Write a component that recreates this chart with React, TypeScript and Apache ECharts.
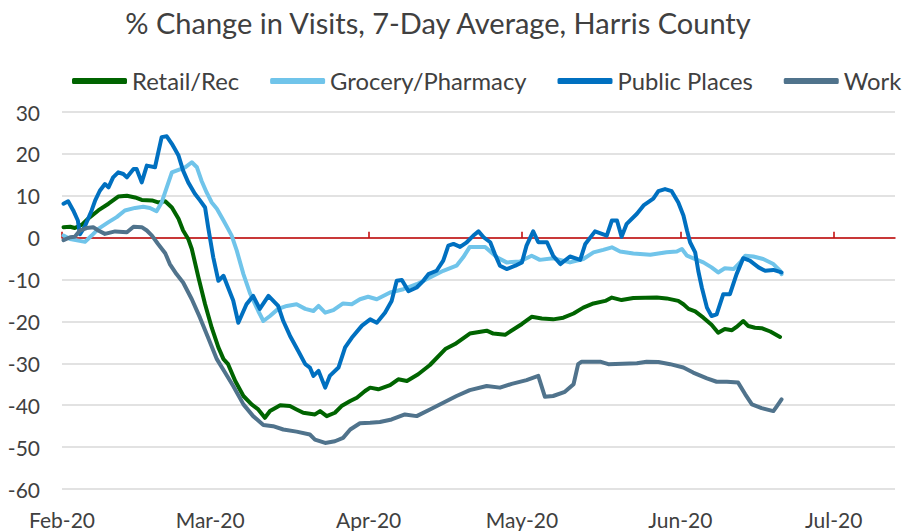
import React, { useEffect, useRef } from 'react';
import * as echarts from 'echarts';

const chartTitle = '% Change in Visits, 7-Day Average, Harris County';
const seriesNames = ['Retail/Rec', 'Grocery/Pharmacy', 'Public Places', 'Work'];
const seriesColors = ['#006400', '#70C4EA', '#0070C0', '#50738C'];

// day index counted from Feb 1, 2020
const monthTicks = [0, 29, 60, 90, 121, 151];
const monthLabels = ['Feb-20', 'Mar-20', 'Apr-20', 'May-20', 'Jun-20', 'Jul-20'];
const axisEndDay = 163;
const yTicks = { min: -60, max: 30, step: 10 };

const retailRec: [number, number][] = [
  [0.3, 2.5], [1.6, 2.6], [2.5, 2.3], [3.9, 3.1], [5.1, 4.5], [7.1, 6.5], [9.1, 8.1], [11.0, 9.8],
  [12.7, 10], [14.3, 9.6], [15.6, 9], [17.6, 8.9], [18.8, 8.4], [20.2, 8.7], [21.5, 7.2], [22.8, 4.5],
  [23.7, 1.7], [24.7, -0.3], [25.4, -2.7], [26.7, -9.5], [28.0, -15.9], [29.3, -21.5], [30.6, -26.2],
  [31.6, -29], [32.5, -30.2], [33.9, -34.2], [35.5, -37.8], [37.1, -39.8], [38.4, -41], [39.7, -43],
  [40.7, -41.4], [42.7, -40], [44.6, -40.2], [45.9, -41], [47.2, -41.8], [49.5, -42.2], [50.5, -41.4],
  [51.8, -42.6], [53.4, -41.8], [54.7, -40.2], [56.4, -39], [57.7, -38.2], [59.3, -36.6], [60.3, -35.8],
  [61.9, -36.2], [64.2, -35.2], [65.8, -33.8], [67.5, -34.2], [69.7, -32.6], [72.0, -30.4], [75.0, -26.6],
  [76.9, -25.4], [79.8, -22.9], [83.1, -22.2], [84.4, -22.9], [86.7, -23.2], [90.0, -20.6], [91.9, -18.9],
  [93.9, -19.3], [96.1, -19.5], [98.1, -19.1], [100.1, -18.1], [102.0, -16.7], [104.0, -15.7], [106.3, -15.1],
  [107.6, -14.3], [109.5, -14.9], [111.8, -14.4], [116.4, -14.3], [118.3, -14.5], [120.6, -15.1], [121.6, -15.9],
  [122.6, -17], [123.9, -17.6], [125.5, -19.1], [127.1, -20.8], [128.4, -22.7], [129.7, -21.8], [131.1, -22.1],
  [132.0, -21.3], [133.3, -19.9], [134.3, -21.1], [135.6, -21.5], [136.9, -21.6], [138.6, -22.4], [140.5, -23.7],
];

const groceryPharmacy: [number, number][] = [
  [0.3, 0.5], [1.6, -0.3], [3.2, -0.7], [4.5, -1], [5.8, 0.5], [7.1, 2.1], [9.1, 3.7], [10.7, 4.9],
  [12.3, 6.5], [14.3, 7.1], [15.9, 7.4], [17.2, 7.1], [18.5, 6.3], [19.5, 8.4], [20.5, 12], [21.5, 15.6],
  [22.8, 16.2], [24.1, 16.8], [25.4, 18], [26.4, 16.8], [27.3, 13.6], [28.3, 10.8], [29.3, 8.4], [30.3, 6.9],
  [31.6, 4.1], [32.5, 2.1], [33.2, 0.5], [34.2, -3.1], [35.5, -8.7], [36.8, -13.3], [38.4, -17.5],
  [39.4, -19.9], [40.7, -18.7], [42.3, -17], [44.0, -16.3], [45.9, -15.9], [47.6, -17], [49.2, -17.5],
  [50.2, -16.3], [51.5, -17.9], [53.1, -17.3], [55.0, -15.7], [56.7, -15.9], [58.3, -14.7], [59.9, -14.1],
  [61.6, -14.7], [64.2, -13.1], [66.8, -12.3], [69.4, -11.1], [72.0, -9.5], [74.6, -7.9], [77.2, -6.7],
  [78.5, -4.7], [79.8, -2.2], [82.8, -2.2], [85.1, -4.7], [87.0, -5.9], [89.6, -5.7], [91.9, -4.3],
  [93.5, -5.3], [96.1, -4.9], [99.4, -5.9], [102.0, -5.1], [104.0, -3.5], [105.9, -2.9], [107.6, -2.3],
  [109.2, -3.3], [111.8, -3.8], [115.1, -4.1], [118.3, -3.5], [120.3, -3.3], [121.3, -2.7], [122.3, -4.3],
  [123.9, -5.1], [125.5, -5.9], [127.1, -7.1], [128.4, -8.3], [129.7, -7.3], [131.4, -7.5], [132.7, -5.9],
  [133.7, -4.3], [135.3, -4.5], [137.2, -5.1], [139.2, -6.3], [140.5, -7.9], [140.8, -8.7],
];

const publicPlaces: [number, number][] = [
  [0.3, 8.1], [1.2, 8.7], [2.2, 6.5], [3.1, 4.1], [3.5, 0.8], [4.4, 2.5], [5.8, 6.5], [6.5, 8.9],
  [7.4, 11.2], [8.4, 12.8], [9.1, 12], [10.0, 14.4], [11.0, 15.6], [12.0, 15.2], [12.7, 14.4], [14.0, 16.4],
  [14.6, 16.4], [15.6, 13.2], [16.6, 17.2], [18.2, 16.8], [19.5, 24], [20.5, 24.2], [21.5, 22.4], [22.8, 19.6],
  [23.7, 16], [24.7, 13.2], [26.0, 10.5], [27.0, 8.9], [28.0, 7.2], [28.6, 2.5], [29.6, -4.7], [30.6, -10.3],
  [31.6, -9.1], [32.5, -11.9], [33.5, -15], [34.5, -20.3], [36.1, -15.9], [37.4, -13.9], [38.7, -17],
  [40.4, -13.9], [42.3, -16.3], [43.3, -19.9], [44.6, -23.4], [46.2, -27], [47.6, -30.2], [48.5, -31],
  [49.2, -33], [50.2, -31.8], [51.5, -35.8], [52.4, -33], [54.1, -31], [55.4, -26.2], [56.7, -23.9],
  [58.7, -21], [60.3, -19.5], [61.6, -20.3], [63.2, -17.9], [64.5, -15.1], [65.5, -10.3], [66.5, -10.1],
  [67.8, -12.8], [69.4, -11.9], [70.7, -10.3], [71.7, -8.7], [73.3, -7.9], [74.6, -5.5], [75.6, -1.9],
  [76.6, -1.5], [77.9, -2.2], [79.2, -1.1], [80.5, 0.5], [81.5, 1.5], [82.5, 0.1], [83.8, -1.1], [84.7, -3.9],
  [85.7, -6.7], [87.0, -7.5], [88.7, -6.7], [90.0, -5.9], [90.9, -1.9], [92.2, 1.5], [93.2, -1.1], [94.9, -1.1],
  [96.1, -4.3], [97.5, -6.3], [99.4, -4.5], [101.4, -5.3], [102.4, -1.5], [104.3, 1.5], [106.6, 0.5],
  [107.6, 4.1], [108.6, 4.1], [109.5, 0.2], [110.5, 3.3], [112.5, 5.7], [113.8, 7.7], [115.7, 9.3],
  [116.7, 11.1], [118.0, 11.6], [119.3, 11.1], [120.6, 8.4], [121.6, 5.3], [122.3, 1.7], [122.9, -1.1],
  [123.9, -3.5], [124.5, -7.9], [125.2, -11.9], [126.2, -16.7], [127.1, -18.7], [128.1, -18.3], [129.4, -13.5],
  [130.7, -13.5], [132.0, -8.7], [133.3, -4.9], [134.6, -5.5], [136.3, -7.1], [137.6, -7.9], [139.2, -7.7],
  [140.8, -8.3],
];

const work: [number, number][] = [
  [0.3, -0.6], [1.6, 0.1], [2.5, 0.2], [3.5, 1.7], [4.8, 2.3], [6.1, 2.5], [7.1, 1.7], [8.4, 0.9],
  [10.4, 1.5], [12.7, 1.3], [14.0, 2.6], [15.6, 2.5], [16.6, 1.7], [17.6, 0.5], [18.8, -1.5], [20.2, -3.7],
  [21.1, -6.3], [22.4, -8.7], [23.7, -10.7], [25.4, -14.7], [27.0, -19.1], [28.6, -23.9], [30.3, -29],
  [31.9, -32.2], [33.5, -35.4], [35.5, -39.8], [37.4, -42.6], [39.4, -44.7], [41.3, -45], [43.3, -45.8],
  [45.9, -46.3], [48.5, -47], [49.5, -48.2], [51.5, -49], [53.4, -48.6], [55.0, -47.8], [56.4, -45.8],
  [58.3, -44.3], [60.3, -44.2], [62.2, -44], [64.5, -43.4], [67.1, -42.2], [69.4, -42.6], [72.0, -41],
  [74.6, -39.4], [77.2, -37.8], [79.8, -36.4], [83.1, -35.4], [85.7, -35.8], [88.0, -34.9], [90.9, -34],
  [93.2, -33], [94.5, -38], [96.1, -37.8], [98.4, -36.8], [100.1, -35], [101.0, -30.2], [101.7, -29.6],
  [105.3, -29.6], [106.9, -30.2], [112.5, -30], [114.4, -29.6], [116.7, -29.7], [119.0, -30.2], [121.6, -31],
  [123.5, -32.2], [126.2, -33.6], [128.1, -34.4], [130.1, -34.4], [132.3, -34.6], [133.7, -37.4], [135.0, -39.8],
  [136.9, -40.7], [139.2, -41.4], [139.9, -40.2], [140.8, -38.6],
];

const seriesData = [retailRec, groceryPharmacy, publicPlaces, work];

export default function App() {
  const ref = useRef<HTMLDivElement>(null);

  useEffect(() => {
    document.body.style.margin = '0';
    if (!ref.current) return;
    const chart = echarts.init(ref.current, null, { renderer: 'svg' });
    const font = 'Lato, "Open Sans", sans-serif';
    const textColor = '#404040';
    const monthFormatter = (v: number) => {
      const i = monthTicks.indexOf(Math.round(v));
      return i >= 0 ? monthLabels[i] : '';
    };

    chart.setOption({
      animation: false,
      backgroundColor: '#ffffff',
      textStyle: { fontFamily: font },
      graphic: [
        {
          type: 'text',
          x: 438,
          y: 22,
          style: {
            text: chartTitle,
            fontFamily: font,
            fontSize: 29,
            fill: textColor,
            textAlign: 'center',
            textVerticalAlign: 'middle',
          },
        },
      ],
      legend: {
        data: seriesNames,
        left: 72,
        top: 69,
        width: 840,
        padding: 0,
        icon: 'roundRect',
        itemWidth: 55,
        itemHeight: 6,
        itemGap: 31,
        textStyle: { fontFamily: font, fontSize: 23.8, color: textColor },
      },
      grid: { left: 62, right: 17, top: 112, bottom: 42 },
      xAxis: [
        {
          type: 'value',
          min: 0,
          max: axisEndDay,
          position: 'bottom',
          axisLine: { show: false, onZero: false },
          axisTick: { show: false },
          splitLine: { show: false },
          axisLabel: {
            customValues: monthTicks,
            formatter: monthFormatter,
            fontFamily: font,
            fontSize: 21,
            color: textColor,
            margin: 20,
          },
        },
        {
          type: 'value',
          min: 0,
          max: axisEndDay,
          position: 'bottom',
          axisLine: { show: true, onZero: true, lineStyle: { color: '#C00000', width: 1.5 } },
          axisTick: {
            show: true,
            inside: true,
            length: 6,
            customValues: monthTicks,
            lineStyle: { color: '#C00000', width: 1.5 },
          },
          axisLabel: { show: false },
          splitLine: { show: false },
        },
      ],
      yAxis: {
        type: 'value',
        min: yTicks.min,
        max: yTicks.max,
        interval: yTicks.step,
        axisLine: { show: false },
        axisTick: { show: false },
        axisLabel: { fontFamily: font, fontSize: 21, color: textColor, margin: 22 },
        splitLine: { lineStyle: { color: '#D9D9D9', width: 1.5 } },
      },
      series: seriesNames.map((name, i) => ({
        name,
        type: 'line',
        xAxisIndex: 0,
        yAxisIndex: 0,
        data: seriesData[i],
        symbol: 'none',
        showSymbol: false,
        color: seriesColors[i],
        lineStyle: { color: seriesColors[i], width: 4, cap: 'round', join: 'round' },
        itemStyle: { color: seriesColors[i] },
      })),
    });

    return () => chart.dispose();
  }, []);

  return <div ref={ref} style={{ width: 912, height: 531 }} />;
}
